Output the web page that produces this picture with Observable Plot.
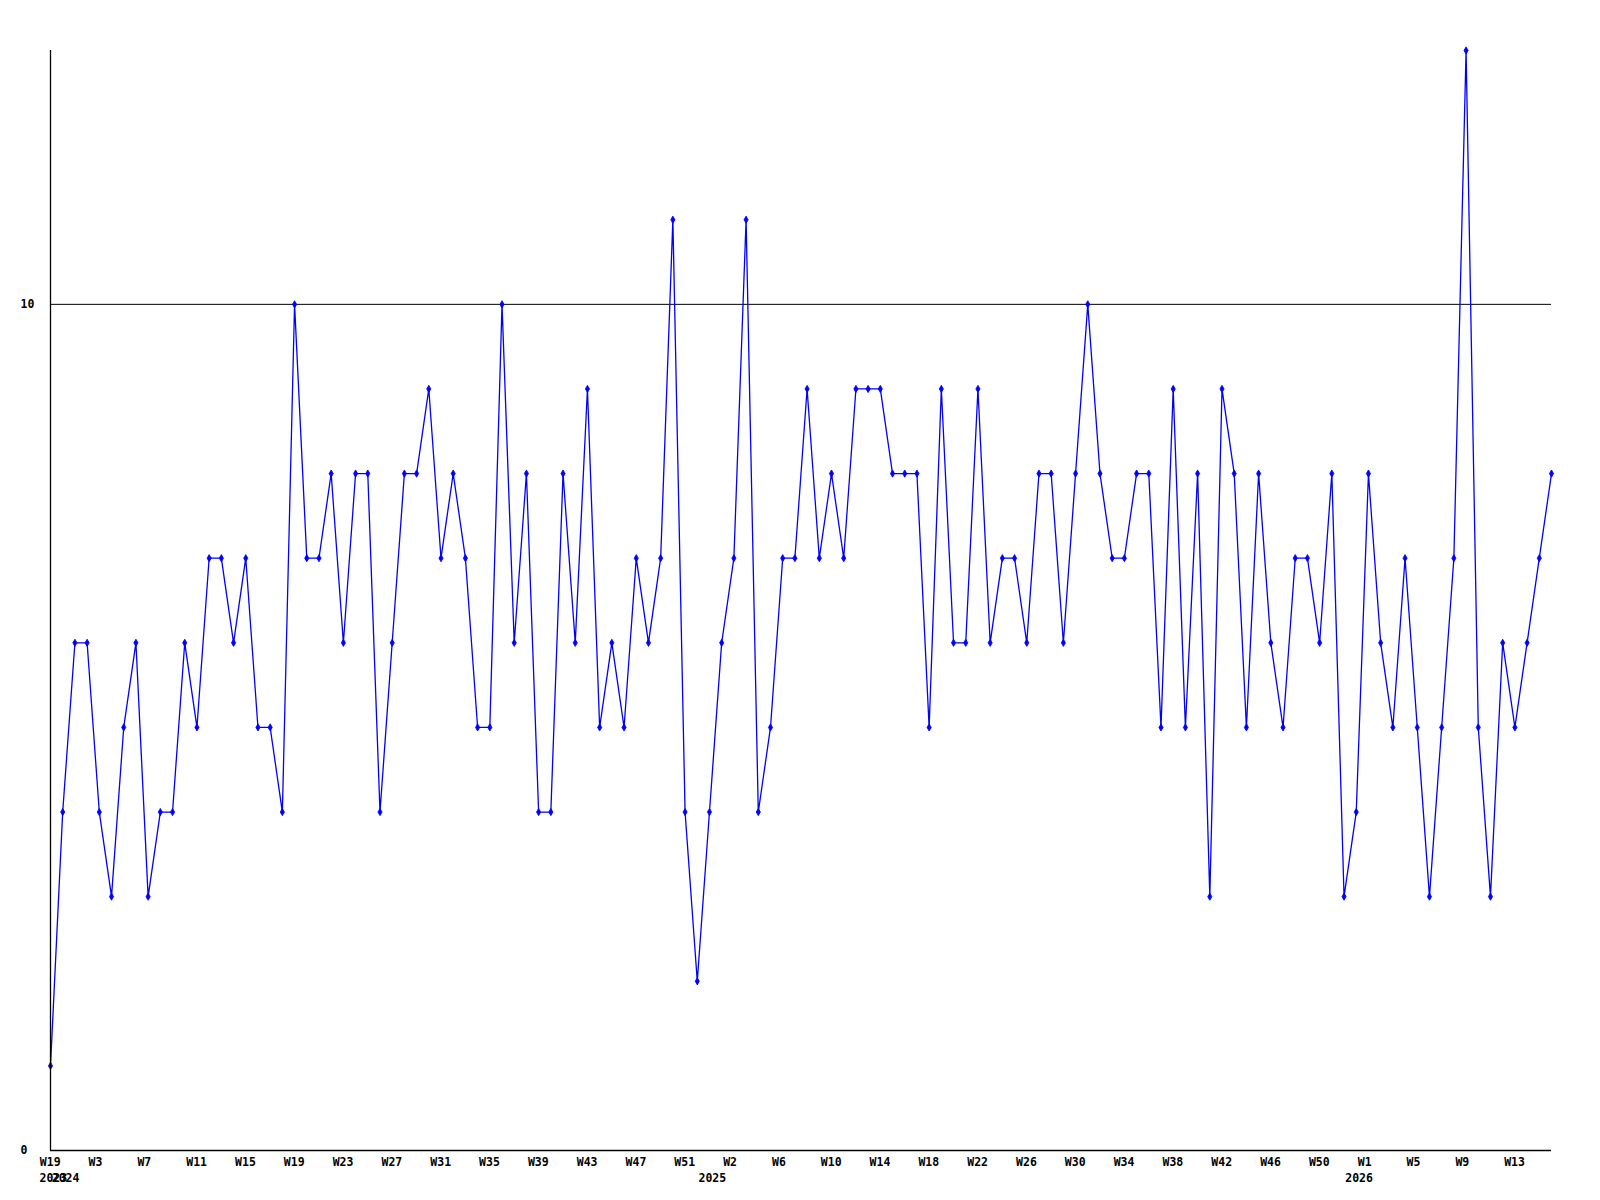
<!DOCTYPE html>
<html>
<head>
<meta charset="utf-8">
<script src="https://cdn.jsdelivr.net/npm/d3@7"></script>
<script src="https://cdn.jsdelivr.net/npm/@observablehq/plot@0.6"></script>
<style>
  html, body { margin: 0; padding: 0; background: #fff; }
</style>
</head>
<body>
<div id="chart"></div>
<script>
// Week categories (year-week), one per data point
const weeks = [
  "2023-W19",
  "2024-W00","2024-W01","2024-W02","2024-W03","2024-W04","2024-W05","2024-W06","2024-W07","2024-W08","2024-W09",
  "2024-W10","2024-W11","2024-W12","2024-W13","2024-W14","2024-W15","2024-W16","2024-W17","2024-W18","2024-W19",
  "2024-W20","2024-W21","2024-W22","2024-W23","2024-W24","2024-W25","2024-W26","2024-W27","2024-W28","2024-W29",
  "2024-W30","2024-W31","2024-W32","2024-W33","2024-W34","2024-W35","2024-W36","2024-W37","2024-W38","2024-W39",
  "2024-W40","2024-W41","2024-W42","2024-W43","2024-W44","2024-W45","2024-W46","2024-W47","2024-W48","2024-W49",
  "2024-W50","2024-W51","2024-W52",
  "2025-W00","2025-W01","2025-W02","2025-W03","2025-W04","2025-W05","2025-W06","2025-W07","2025-W08","2025-W09",
  "2025-W10","2025-W11","2025-W12","2025-W13","2025-W14","2025-W15","2025-W16","2025-W17","2025-W18","2025-W19",
  "2025-W20","2025-W21","2025-W22","2025-W23","2025-W24","2025-W25","2025-W26","2025-W27","2025-W28","2025-W29",
  "2025-W30","2025-W31","2025-W32","2025-W33","2025-W34","2025-W35","2025-W36","2025-W37","2025-W38","2025-W39",
  "2025-W40","2025-W41","2025-W42","2025-W43","2025-W44","2025-W45","2025-W46","2025-W47","2025-W48","2025-W49",
  "2025-W50","2025-W51","2025-W52",
  "2026-W00","2026-W01","2026-W02","2026-W03","2026-W04","2026-W05","2026-W06","2026-W07","2026-W08","2026-W09",
  "2026-W10","2026-W11","2026-W12","2026-W13","2026-W14","2026-W15","2026-W16"
];

// Series values
const values = [
  1,4,6,6,4,3,5,6,3,4,
  4,6,5,7,7,6,7,5,5,4,
  10,7,7,8,6,8,8,4,6,8,
  8,9,7,8,7,5,5,10,6,8,
  4,4,8,6,9,5,6,5,7,6,
  7,11,4,2,4,6,7,11,4,5,
  7,7,9,7,8,7,9,9,9,8,
  8,8,5,9,6,6,9,6,7,7,
  6,8,8,6,8,10,8,7,7,8,
  8,5,9,5,8,3,9,8,5,8,
  6,5,7,7,6,8,3,4,8,6,
  5,7,5,3,5,7,13,5,3,6,
  5,6,7,8
];

// X tick categories and their labels
const xTickWeeks = [
  "2023-W19","2024-W03","2024-W07","2024-W11","2024-W15","2024-W19","2024-W23","2024-W27",
  "2024-W31","2024-W35","2024-W39","2024-W43","2024-W47","2024-W51","2025-W02","2025-W06",
  "2025-W10","2025-W14","2025-W18","2025-W22","2025-W26","2025-W30","2025-W34","2025-W38",
  "2025-W42","2025-W46","2025-W50","2026-W01","2026-W05","2026-W09","2026-W13"
];
const xTickLabels = [
  "W19","W3","W7","W11","W15","W19","W23","W27",
  "W31","W35","W39","W43","W47","W51","W2","W6",
  "W10","W14","W18","W22","W26","W30","W34","W38",
  "W42","W46","W50","W1","W5","W9","W13"
];

// Year labels at the first week of each year
const yearWeeks = ["2023-W19","2024-W00","2025-W00","2026-W00"];
const yearLabels = ["2023","2024","2025","2026"];

// Y ticks and grid
const yTicks = [0, 10];
const yGrid = [10];

// Categories are placed at evenly spaced ordinal positions (their index)
const pos = w => weeks.indexOf(w);
const data = weeks.map((w, i) => ({week: w, i, value: values[i]}));
const font = "'DejaVu Sans Mono', 'Liberation Mono', monospace";
const txt = {fontSize: 11.5, fontWeight: "bold", fill: "#000", fontFamily: font};

const chart = Plot.plot({
  width: 1600,
  height: 1200,
  marginLeft: 50,
  marginRight: 49,
  marginTop: 50,
  marginBottom: 50,
  style: {background: "#fff", fontFamily: font, overflow: "visible"},
  x: {type: "linear", domain: [0, weeks.length - 1], axis: null},
  y: {domain: [0, 13], axis: null},
  marks: [
    Plot.ruleY(yGrid, {stroke: "#000", strokeWidth: 1}),
    Plot.line(data, {x: "i", y: "value", stroke: "#0000ff", strokeWidth: 1.3}),
    Plot.dot(data, {x: "i", y: "value", symbol: "diamond", r: 2.2, fill: "#0000ff", stroke: "#0000ff", strokeWidth: 0.8}),
    Plot.ruleY([0], {stroke: "#000", strokeWidth: 1.3}),
    Plot.ruleX([0], {stroke: "#000", strokeWidth: 1.3}),
    Plot.text(xTickWeeks, {
      x: d => pos(d), text: (d, i) => xTickLabels[i],
      frameAnchor: "bottom", dy: 12, dx: -10.7, textAnchor: "start", lineAnchor: "middle", ...txt
    }),
    Plot.text(yearWeeks, {
      x: d => pos(d), text: (d, i) => yearLabels[i],
      frameAnchor: "bottom", dy: 27.5, dx: -11, textAnchor: "start", lineAnchor: "middle", ...txt
    }),
    Plot.text(yTicks, {
      y: d => d, text: d => String(d),
      frameAnchor: "left", dx: -30, textAnchor: "start", lineAnchor: "middle", ...txt
    })
  ]
});

document.getElementById("chart").appendChild(chart);
</script>
</body>
</html>
